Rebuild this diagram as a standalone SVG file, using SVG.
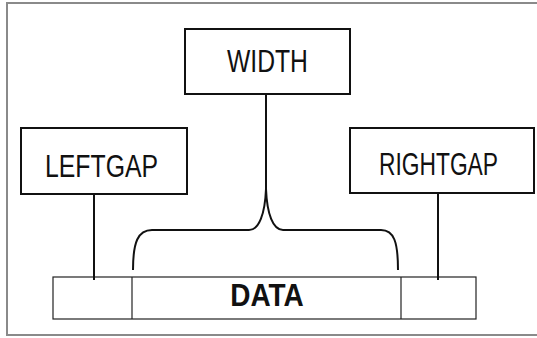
<svg xmlns="http://www.w3.org/2000/svg" width="537" height="338" viewBox="0 0 537 338">
<style>
.box{fill:#fff;stroke:#111;stroke-width:2}
.lbl{font-family:"Liberation Sans",Arial,sans-serif;fill:#111}
.bold{font-weight:bold}
.conn{fill:none;stroke:#111;stroke-width:2}
.bar{fill:#fff;stroke:#222;stroke-width:1.2}
</style>
<rect x="0" y="0" width="537" height="338" fill="#fff"/>
<path d="M537,3 H7 V335 H537" fill="none" stroke="#8a8a8a" stroke-width="2"/>
<g id="data">
<rect class="bar" x="53" y="277" width="423" height="42"/>
<line class="bar" x1="132" y1="277" x2="132" y2="319"/>
<line class="bar" x1="401" y1="277" x2="401" y2="319"/>
<text class="lbl bold" transform="translate(267,306) scale(1,1.15)" text-anchor="middle" style="font-size:28px">DATA</text>
</g>
<g id="connectors">
<line class="conn" x1="94" y1="194" x2="94" y2="280"/>
<line class="conn" x1="438" y1="193" x2="438" y2="280"/>
<line class="conn" x1="266" y1="94" x2="266" y2="189"/>
<path class="conn" d="M133,270 C133,242 138,230 152,230 L249,230 C259,230 265,214 266,189 C267,214 273,230 283,230 L381,230 C394,230 398,242 398,270"/>
</g>
<g id="width">
<rect class="box" x="185" y="29" width="165" height="65"/>
<text class="lbl" transform="translate(267.5,72) scale(1,1.25)" text-anchor="middle" style="font-size:24.7px">WIDTH</text>
</g>
<g id="leftgap">
<rect class="box" x="21" y="128" width="166" height="66"/>
<text class="lbl" transform="translate(101.5,177) scale(1,1.3)" text-anchor="middle" style="font-size:24.8px">LEFTGAP</text>
</g>
<g id="rightgap">
<rect class="box" x="350" y="128" width="184" height="65"/>
<text class="lbl" transform="translate(438.5,175) scale(1,1.36)" text-anchor="middle" style="font-size:22.8px">RIGHTGAP</text>
</g>
</svg>
